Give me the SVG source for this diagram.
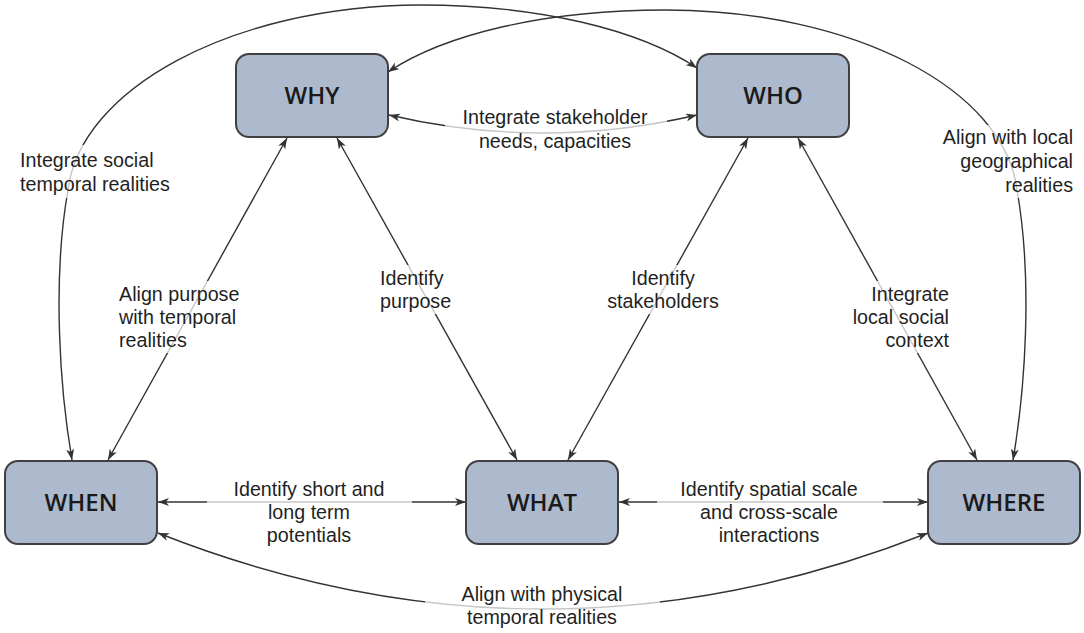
<svg xmlns="http://www.w3.org/2000/svg" width="1084" height="633" viewBox="0 0 1084 633">
<style>
.node rect{fill:#adb9cc;stroke:#404040;stroke-width:2}
.node text{font-family:"Open Sans","Noto Sans",sans-serif;font-size:24px;font-weight:600;fill:#1a1a1a;text-anchor:middle}
.edge{fill:none;stroke:#333;stroke-width:1.4;marker-start:url(#arr);marker-end:url(#arr)}
.lbg{fill:#fff;fill-opacity:0.72}
.lbl{font-family:"Liberation Sans",Arial,sans-serif;font-size:19.7px;fill:#1f1f1f}
.c{text-anchor:middle}.r{text-anchor:end}
</style>
<defs>
<marker id="arr" viewBox="0 0 12 8" refX="11" refY="4" markerWidth="12" markerHeight="8" markerUnits="userSpaceOnUse" orient="auto-start-reverse">
<path d="M0,0 L11,4 L0,8 L3,4 z" fill="#333"/>
</marker>
</defs>
<rect width="1084" height="633" fill="#fff"/>
<g id="connectors">
<path class="edge" d="M389,115 Q543,151 697,115"/>
<path class="edge" d="M287,138 L108,460"/>
<path class="edge" d="M337,138 L517,460"/>
<path class="edge" d="M748,138 L568,460"/>
<path class="edge" d="M798,138 L977,460"/>
<path class="edge" d="M158,502 L466,502"/>
<path class="edge" d="M619,502 L928,502"/>
<path class="edge" d="M158,533 Q543,685 928,533"/>
<path class="edge" d="M72,460 C60,390 52,280 68,190 C80,90 230,6 420,5 C540,5 640,30 697,68"/>
<path class="edge" d="M1013,460 C1025,390 1033,280 1017,190 C1005,90 855,10 665,10 C545,10 445,34 388,72"/>
</g>
<g id="labels">
<rect class="lbg" x="445" y="103" width="222" height="51"/>
<text class="lbl c" x="555" y="124">Integrate stakeholder</text>
<text class="lbl c" x="555" y="148">needs, capacities</text>
<rect class="lbg" x="10" y="145" width="172" height="53"/>
<text class="lbl" x="20" y="167">Integrate social</text>
<text class="lbl" x="20" y="191">temporal realities</text>
<rect class="lbg" x="933" y="125" width="147" height="73"/>
<text class="lbl r" x="1073" y="144">Align with local</text>
<text class="lbl r" x="1073" y="168">geographical</text>
<text class="lbl r" x="1073" y="192">realities</text>
<rect class="lbg" x="110" y="281" width="140" height="72"/>
<text class="lbl" x="119" y="301">Align purpose</text>
<text class="lbl" x="119" y="324">with temporal</text>
<text class="lbl" x="119" y="347">realities</text>
<rect class="lbg" x="372" y="265" width="84" height="49"/>
<text class="lbl" x="380" y="285">Identify</text>
<text class="lbl" x="380" y="308">purpose</text>
<rect class="lbg" x="603" y="265" width="120" height="49"/>
<text class="lbl c" x="663" y="285">Identify</text>
<text class="lbl c" x="663" y="308">stakeholders</text>
<rect class="lbg" x="832" y="281" width="126" height="72"/>
<text class="lbl r" x="949" y="301">Integrate</text>
<text class="lbl r" x="949" y="324">local social</text>
<text class="lbl r" x="949" y="347">context</text>
<rect class="lbg" x="207" y="477" width="205" height="71"/>
<text class="lbl c" x="309" y="496">Identify short and</text>
<text class="lbl c" x="309" y="519">long term</text>
<text class="lbl c" x="309" y="542">potentials</text>
<rect class="lbg" x="657" y="477" width="226" height="71"/>
<text class="lbl c" x="769" y="496">Identify spatial scale</text>
<text class="lbl c" x="769" y="519">and cross-scale</text>
<text class="lbl c" x="769" y="542">interactions</text>
<rect class="lbg" x="425" y="582" width="235" height="48"/>
<text class="lbl c" x="542" y="601">Align with physical</text>
<text class="lbl c" x="542" y="624">temporal realities</text>
</g>
<g id="WHY" class="node"><rect x="236" y="54" width="152" height="83" rx="13"/><text x="312" y="104">WHY</text></g>
<g id="WHO" class="node"><rect x="697" y="54" width="152" height="83" rx="13"/><text x="773" y="104">WHO</text></g>
<g id="WHEN" class="node"><rect x="5" y="461" width="152" height="83" rx="13"/><text x="81" y="511">WHEN</text></g>
<g id="WHAT" class="node"><rect x="466" y="461" width="152" height="83" rx="13"/><text x="542" y="511">WHAT</text></g>
<g id="WHERE" class="node"><rect x="928" y="461" width="152" height="83" rx="13"/><text x="1004" y="511">WHERE</text></g>
</svg>
